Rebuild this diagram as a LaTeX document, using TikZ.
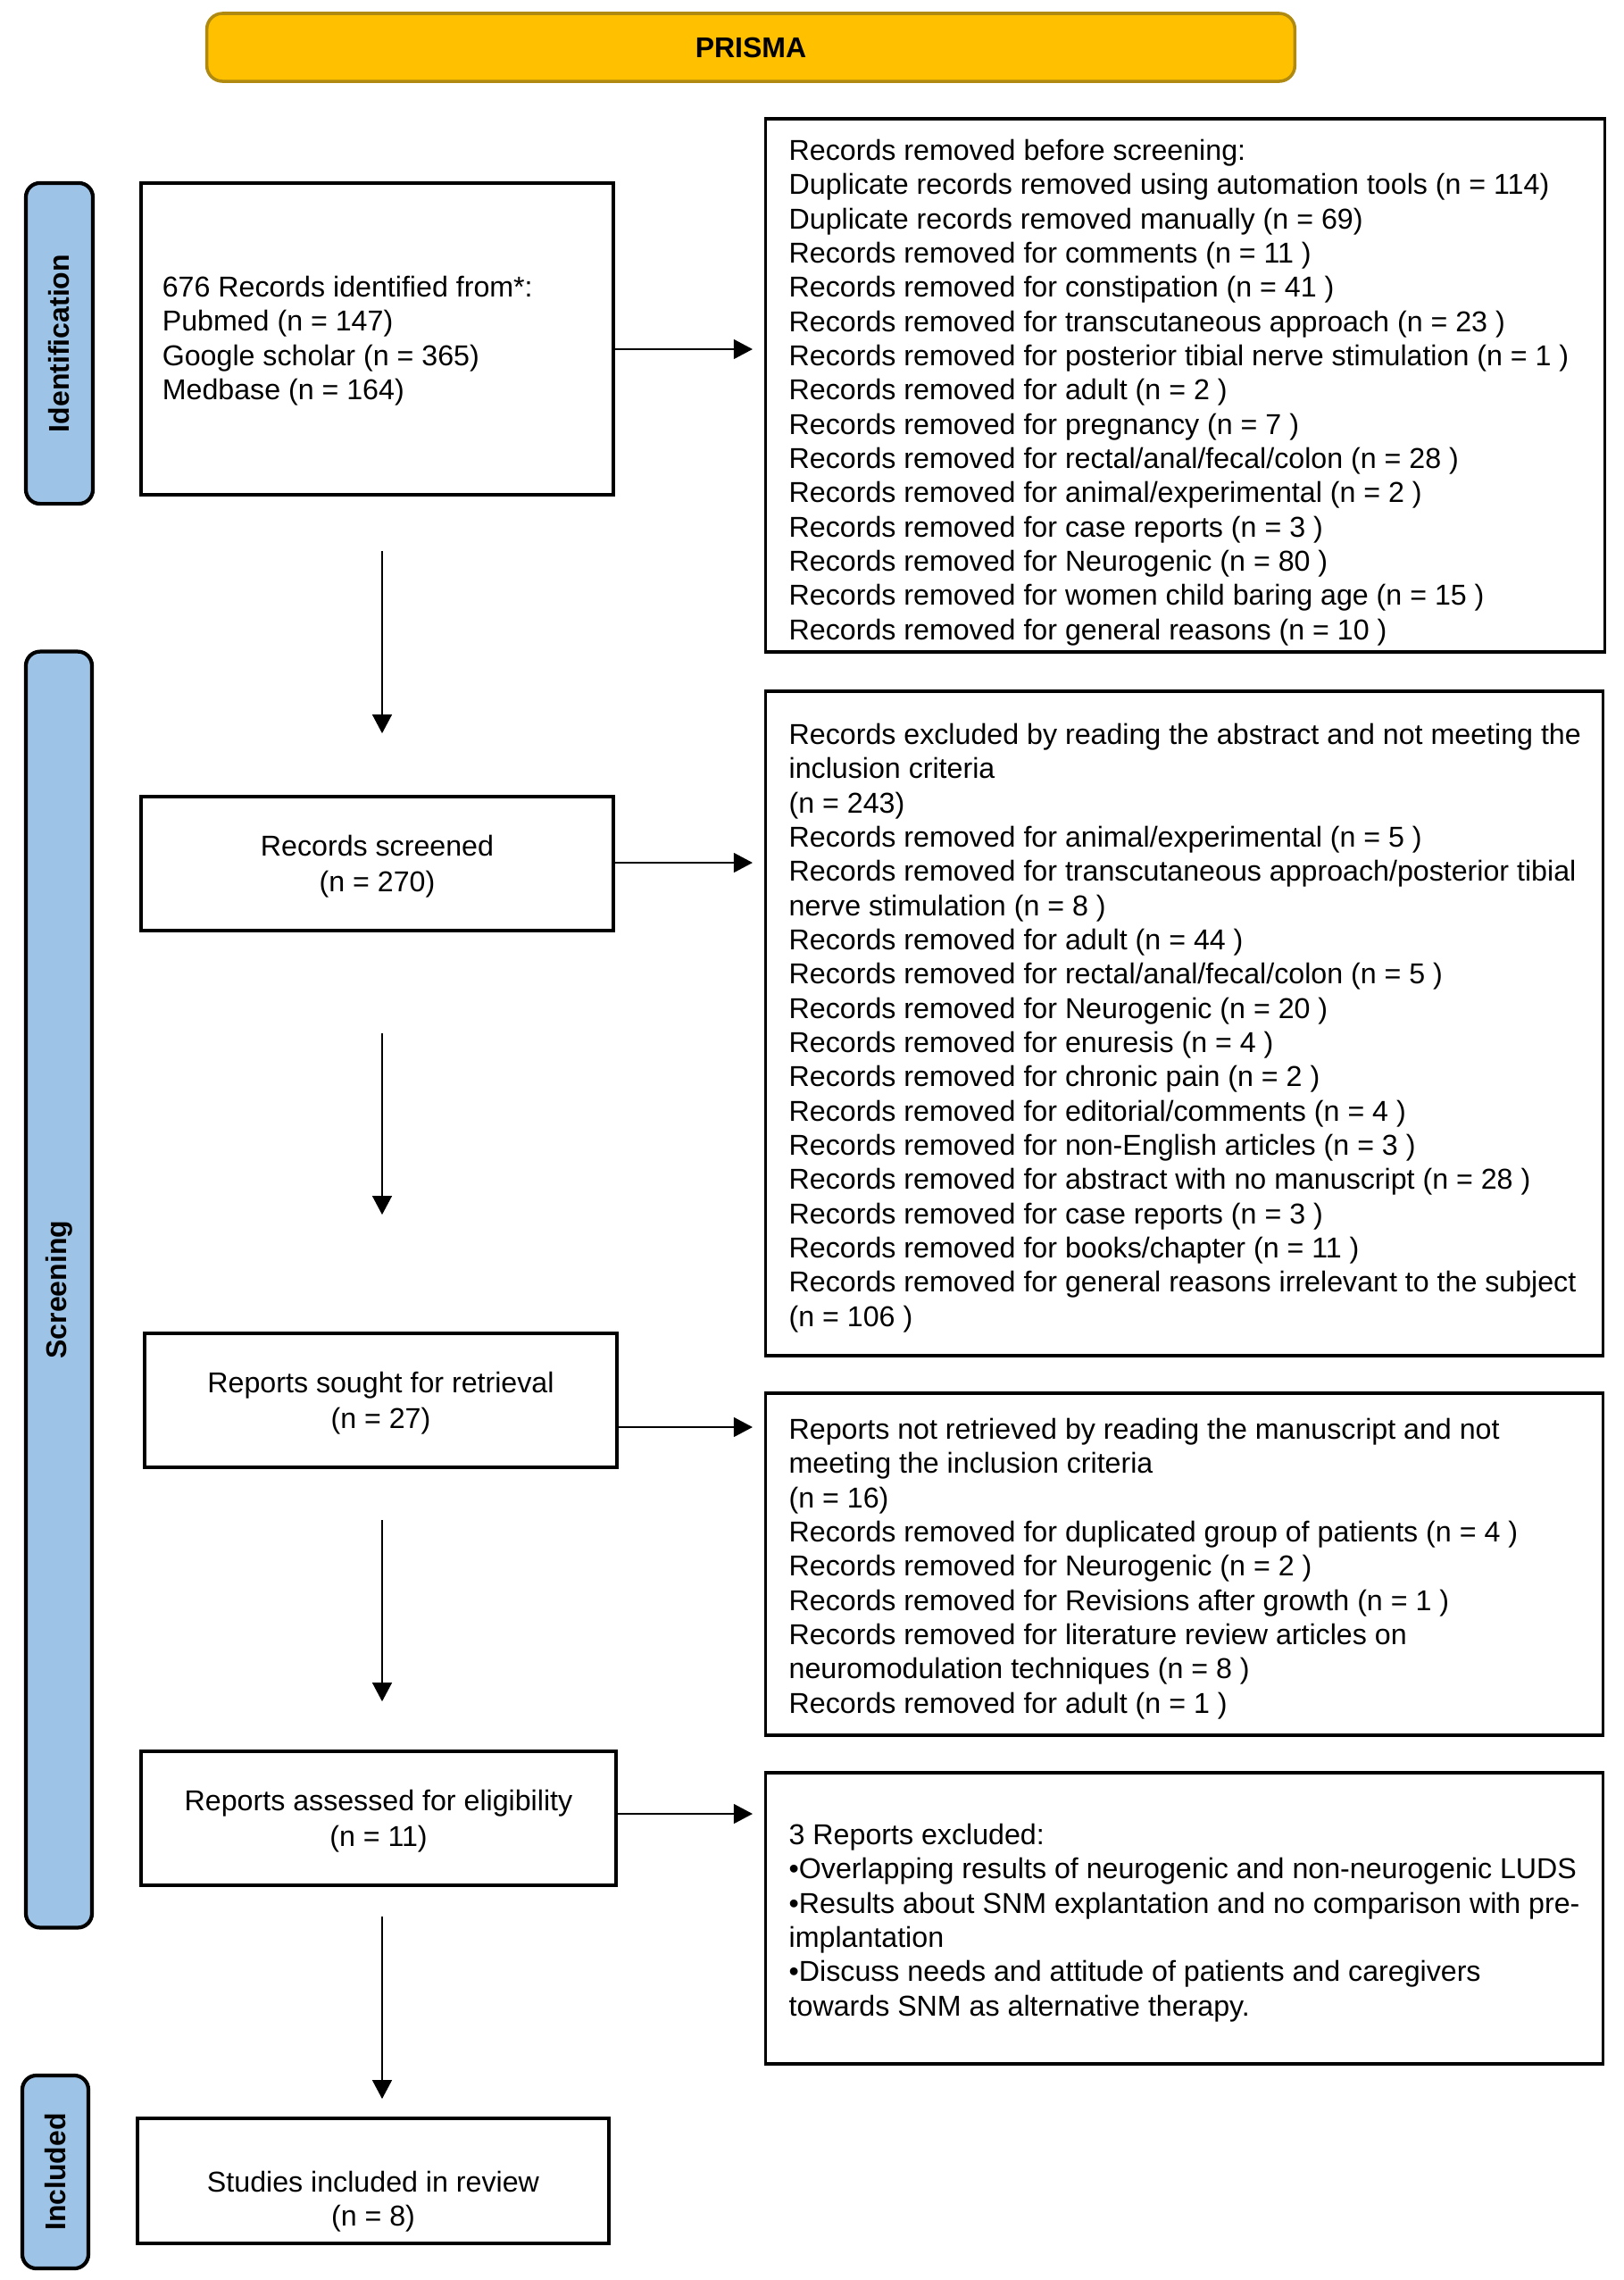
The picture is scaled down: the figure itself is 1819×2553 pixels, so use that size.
\documentclass[tikz,border=0pt]{standalone}
\usepackage{fontspec}
\setmainfont{Liberation Sans}
\usetikzlibrary{arrows.meta,calc}
\definecolor{gold}{HTML}{FFC000}
\definecolor{golddark}{HTML}{B08A10}
\definecolor{sideblue}{HTML}{9DC3E6}
\begin{document}
\begin{tikzpicture}[x=0.01cm,y=-0.01cm,
  font=\fontsize{9.15}{10.9}\selectfont,
  box/.style={draw=black, line width=1pt, inner sep=0pt},
  sidelab/.style={draw=black, line width=1.2pt, fill=sideblue, rounded corners=4.5pt, rotate=90, inner sep=0pt, font=\fontsize{9.1}{10.9}\selectfont\bfseries},
  txt/.style={align=left, inner sep=0pt, anchor=west},
  ctxt/.style={align=center, inner sep=0pt},
  arr/.style={-{Triangle[length=6pt,width=6.2pt]}, line width=0.6pt}]
\useasboundingbox (0,0) rectangle (1819,2553);

% title bar
\node[draw=golddark, line width=1pt, fill=gold, rounded corners=5pt, minimum width=12.18cm, minimum height=0.76cm, font=\fontsize{9.1}{10.9}\selectfont\bfseries] (title) at (841,53) {PRISMA};

% side labels
\node[sidelab, minimum width=3.59cm, minimum height=0.75cm] (lid) at (66.5,384.5) {Identification};
\node[sidelab, minimum width=14.28cm, minimum height=0.74cm] (lsc) at (66,1444) {Screening};
\node[sidelab, minimum width=2.16cm, minimum height=0.74cm] (lin) at (62,2432) {Included};

% left column boxes
\node[box, minimum width=5.29cm, minimum height=3.49cm] (b1) at (422.5,379.5) {};
\node[txt] (t1) at ([xshift=0.25cm,yshift=-0.02cm]b1.west) {676 Records identified from*:\\Pubmed (n = 147)\\Google scholar (n = 365)\\Medbase (n = 164)};
\node[box, minimum width=5.29cm, minimum height=1.50cm] (b2) at (422.5,967) {};
\node[ctxt] (t2) at ([yshift=-0.03cm]b2.center) {Records screened\\[0.6pt](n = 270)};
\node[box, minimum width=5.29cm, minimum height=1.50cm] (b3) at (426.5,1568) {};
\node[ctxt] (t3) at ([yshift=-0.03cm]b3.center) {Reports sought for retrieval\\[0.6pt](n = 27)};
\node[box, minimum width=5.32cm, minimum height=1.50cm] (b4) at (424,2036) {};
\node[ctxt] (t4) at ([yshift=-0.03cm]b4.center) {Reports assessed for eligibility\\[0.6pt](n = 11)};
\node[box, minimum width=5.28cm, minimum height=1.40cm] (b5) at (418,2442) {};
\node[ctxt] (t5) at ([yshift=-0.23cm]b5.center) {Studies included in review\\(n = 8)};

% right column boxes
\node[box, minimum width=9.39cm, minimum height=5.97cm] (r1) at (1327.5,431.5) {};
\node[txt] (rt1) at ([xshift=0.27cm,yshift=-0.08cm]r1.west) {Records removed before screening:\\
Duplicate records removed using automation tools (n = 114)\\
Duplicate records removed manually (n = 69)\\
Records removed for comments (n = 11 )\\
Records removed for constipation (n = 41 )\\
Records removed for transcutaneous approach (n = 23 )\\
Records removed for posterior tibial nerve stimulation (n = 1 )\\
Records removed for adult (n = 2 )\\
Records removed for pregnancy (n = 7 )\\
Records removed for rectal/anal/fecal/colon (n = 28 )\\
Records removed for animal/experimental (n = 2 )\\
Records removed for case reports (n = 3 )\\
Records removed for Neurogenic (n = 80 )\\
Records removed for women child baring age (n = 15 )\\
Records removed for general reasons (n = 10 )};

\node[box, minimum width=9.37cm, minimum height=7.44cm] (r2) at (1326.5,1146) {};
\node[txt] (rt2) at ([xshift=0.27cm,yshift=-0.05cm]r2.west) {Records excluded by reading the abstract and not meeting the\\
inclusion criteria\\
(n = 243)\\
Records removed for animal/experimental (n = 5 )\\
Records removed for transcutaneous approach/posterior tibial\\
nerve stimulation (n = 8 )\\
Records removed for adult (n = 44 )\\
Records removed for rectal/anal/fecal/colon (n = 5 )\\
Records removed for Neurogenic (n = 20 )\\
Records removed for enuresis (n = 4 )\\
Records removed for chronic pain (n = 2 )\\
Records removed for editorial/comments (n = 4 )\\
Records removed for non-English articles (n = 3 )\\
Records removed for abstract with no manuscript (n = 28 )\\
Records removed for case reports (n = 3 )\\
Records removed for books/chapter (n = 11 )\\
Records removed for general reasons irrelevant to the subject\\
(n = 106 )};

\node[box, minimum width=9.37cm, minimum height=3.83cm] (r3) at (1326.5,1751.5) {};
\node[txt] (rt3) at ([xshift=0.27cm,yshift=-0.05cm]r3.west) {Reports not retrieved by reading the manuscript and not\\
meeting the inclusion criteria\\
(n = 16)\\
Records removed for duplicated group of patients (n = 4 )\\
Records removed for Neurogenic (n = 2 )\\
Records removed for Revisions after growth (n = 1 )\\
Records removed for literature review articles on\\
neuromodulation techniques (n = 8 )\\
Records removed for adult (n = 1 )};

\node[box, minimum width=9.37cm, minimum height=3.26cm] (r4) at (1326.5,2148) {};
\node[txt] (rt4) at ([xshift=0.27cm,yshift=-0.05cm]r4.west) {3 Reports excluded:\\
•Overlapping results of neurogenic and non-neurogenic LUDS\\
•Results about SNM explantation and no comparison with pre-\\
implantation\\
•Discuss needs and attitude of patients and caregivers\\
towards SNM as alternative therapy.};

% helper coordinates
\coordinate (col) at (428,0);
\coordinate (h1) at (0,391);
\coordinate (h2) at (0,966);
\coordinate (h3) at (0,1598);
\coordinate (h4) at (0,2031);

% horizontal arrows
\draw[arr, shorten >=0.13cm] (b1.east |- h1) -- (r1.west |- h1);
\draw[arr, shorten >=0.13cm] (b2.east |- h2) -- (r2.west |- h2);
\draw[arr, shorten >=0.13cm] (b3.east |- h3) -- (r3.west |- h3);
\draw[arr, shorten >=0.13cm] (b4.east |- h4) -- (r4.west |- h4);

% vertical arrows
\draw[arr, shorten <=0.61cm, shorten >=0.69cm] (b1.south -| col) -- (b2.north -| col);
\draw[arr, shorten <=1.13cm, shorten >=1.31cm] (b2.south -| col) -- (b3.north -| col);
\draw[arr, shorten <=0.57cm, shorten >=0.54cm] (b3.south -| col) -- (b4.north -| col);
\draw[arr, shorten <=0.33cm, shorten >=0.20cm] (b4.south -| col) -- (b5.north -| col);
\end{tikzpicture}
\end{document}
